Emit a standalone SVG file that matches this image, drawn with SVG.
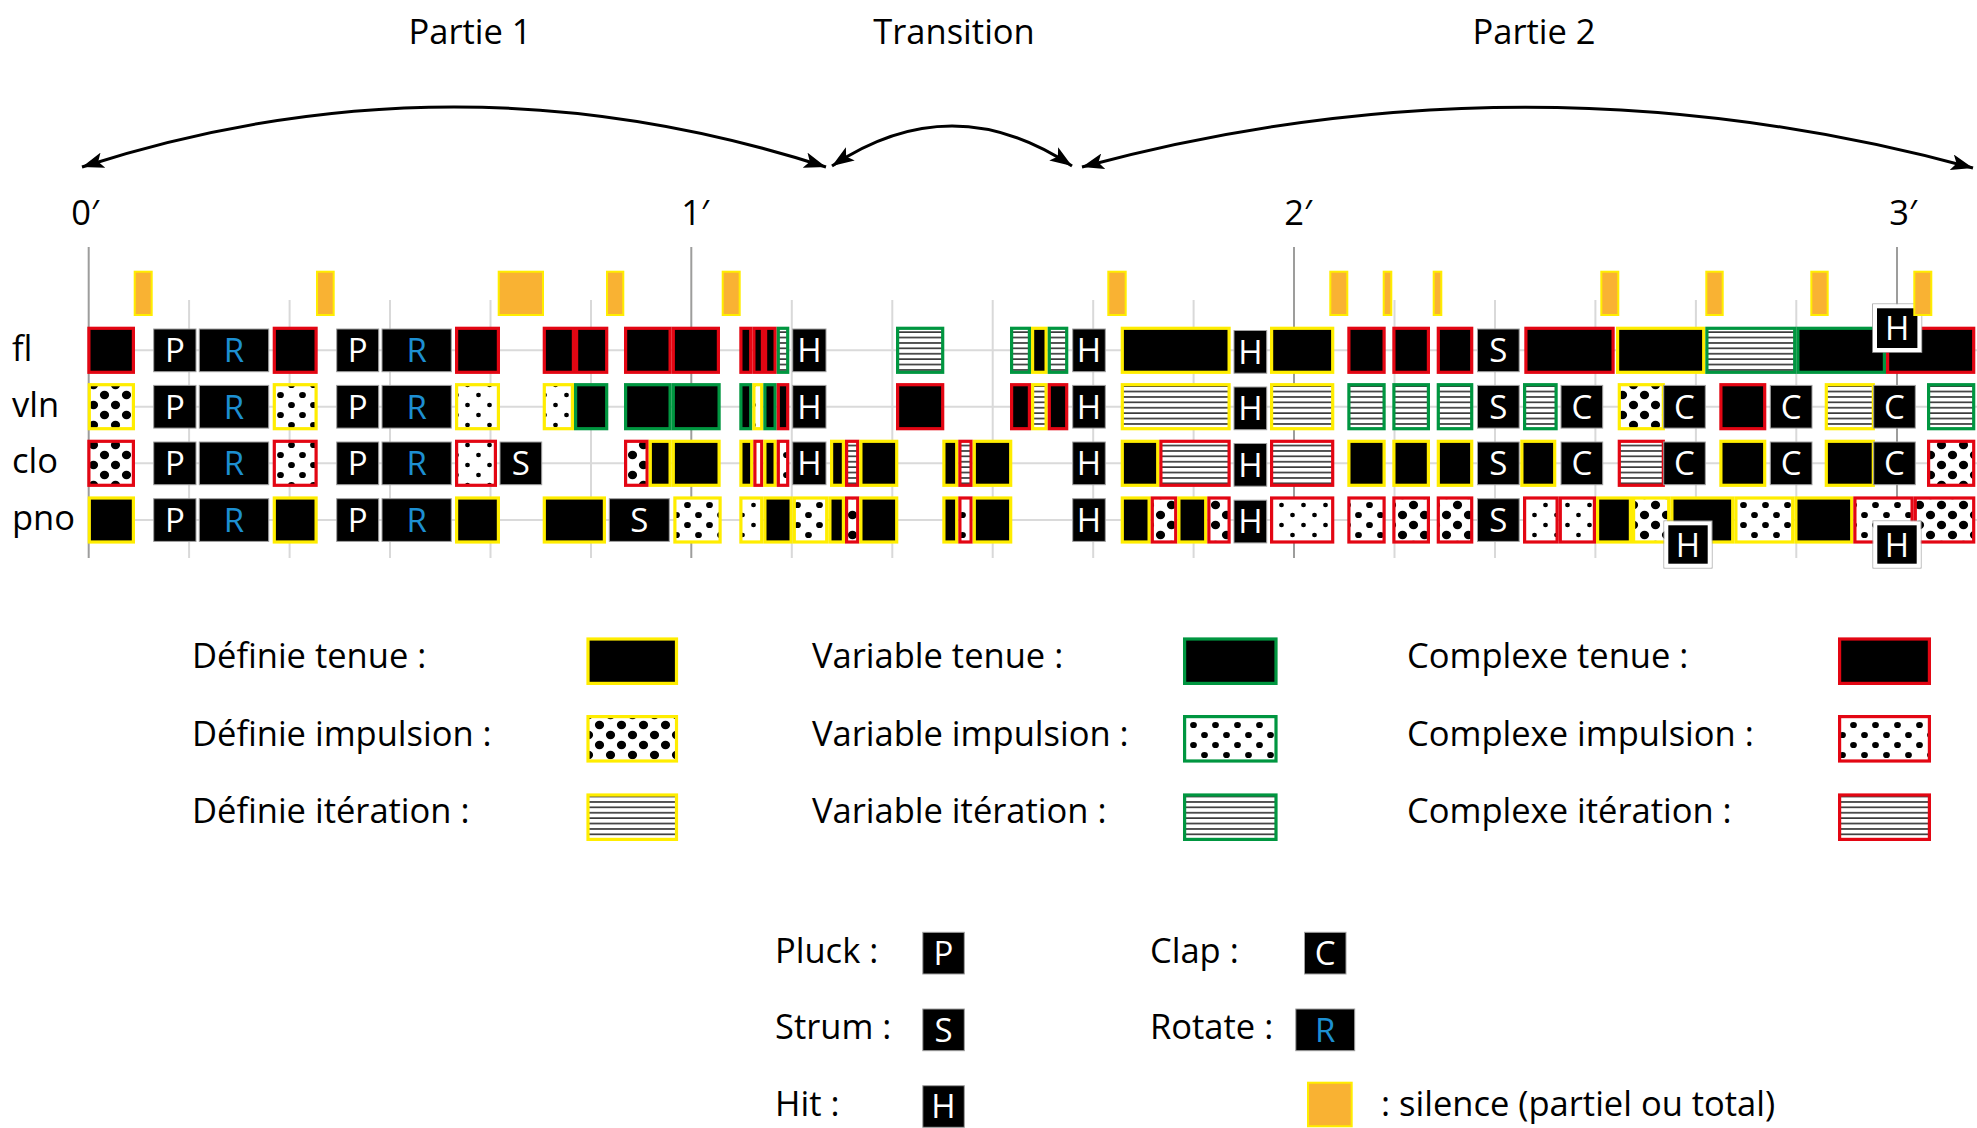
<svg xmlns="http://www.w3.org/2000/svg" width="1977" height="1128" viewBox="0 0 1977 1128">
<defs>
<style>
.c{stroke-width:3.2}
.y{stroke:#ffed00}.g{stroke:#009640}.r{stroke:#e30613}
.B{fill:#000}.L{fill:url(#dL)}.M{fill:url(#dM)}.S{fill:url(#dS)}.I{fill:url(#it)}
.k{fill:#000;stroke:#a0a0a0;stroke-width:1}
.t{font-family:"Open Sans","Liberation Sans",sans-serif;font-size:33px;fill:#fff;text-anchor:middle}
.bl{fill:#1d8fd1}
.lab{font-family:"Open Sans","Liberation Sans",sans-serif;font-size:34.5px;fill:#000}
.mid{text-anchor:middle}
.ax{font-family:"Open Sans","DejaVu Sans",sans-serif;font-size:34.5px;fill:#000;text-anchor:middle}
.sil{fill:#f9b233;stroke:#ffed00;stroke-width:2}
.mn{stroke:#d9d9d9;stroke-width:2}
.mj{stroke:#9d9d9c;stroke-width:2}
.hl{stroke:#dadada;stroke-width:2}
.arc{fill:none;stroke:#000;stroke-width:3;marker-start:url(#ah);marker-end:url(#ah)}
.ov{fill:#000;stroke:#fff;stroke-width:4}
.ovo{fill:none;stroke:#a0a0a0;stroke-width:1}
</style>
<pattern id="dL" width="22" height="20" patternUnits="userSpaceOnUse"><rect width="22" height="20" fill="#fff"/><ellipse cx="5.5" cy="5" rx="4.6" ry="4.2"/><ellipse cx="16.5" cy="15" rx="4.6" ry="4.2"/></pattern>
<pattern id="dM" width="22" height="20" patternUnits="userSpaceOnUse"><rect width="22" height="20" fill="#fff"/><ellipse cx="5.5" cy="5" rx="3.4" ry="3.1"/><ellipse cx="16.5" cy="15" rx="3.4" ry="3.1"/></pattern>
<pattern id="dS" width="22" height="20" patternUnits="userSpaceOnUse"><rect width="22" height="20" fill="#fff"/><ellipse cx="5.5" cy="5" rx="2.4" ry="2.2"/><ellipse cx="16.5" cy="15" rx="2.4" ry="2.2"/></pattern>
<pattern id="it" width="10" height="5.4" patternUnits="userSpaceOnUse"><rect width="10" height="5.4" fill="#fff"/><rect y="2" width="10" height="1.5" fill="#222"/></pattern>
<marker id="ah" markerUnits="userSpaceOnUse" markerWidth="24" markerHeight="16" viewBox="0 0 24 16" refX="22" refY="8" orient="auto-start-reverse"><path d="M0,0 L22,8 L0,16 L5,8 z" fill="#000"/></marker>
</defs>
<rect width="1977" height="1128" fill="#fff"/>

<g id="titles">
<text class="lab mid" x="470" y="44">Partie 1</text>
<text class="lab mid" x="954" y="44">Transition</text>
<text class="lab mid" x="1534" y="44">Partie 2</text>
</g>

<g id="connectors">
<path class="arc" d="M82,167 Q454,47 826,167"/>
<path class="arc" d="M832,166 Q952,86 1072,166"/>
<path class="arc" d="M1082,167 Q1527,47 1973,168"/>
</g>

<g id="axis">
<text class="ax" x="85" y="225">0′</text>
<text class="ax" x="695" y="225">1′</text>
<text class="ax" x="1298" y="225">2′</text>
<text class="ax" x="1903" y="225">3′</text>
</g>

<g id="grid">
<line class="hl" x1="88.7" y1="350.3" x2="1977" y2="350.3"/>
<line class="hl" x1="88.7" y1="406.7" x2="1977" y2="406.7"/>
<line class="hl" x1="88.7" y1="463.3" x2="1977" y2="463.3"/>
<line class="hl" x1="88.7" y1="520" x2="1977" y2="520"/>
<line class="mn" x1="189.1" y1="300" x2="189.1" y2="558"/>
<line class="mn" x1="289.6" y1="300" x2="289.6" y2="558"/>
<line class="mn" x1="390" y1="300" x2="390" y2="558"/>
<line class="mn" x1="490.5" y1="300" x2="490.5" y2="558"/>
<line class="mn" x1="591" y1="300" x2="591" y2="558"/>
<line class="mn" x1="791.8" y1="300" x2="791.8" y2="558"/>
<line class="mn" x1="892.3" y1="300" x2="892.3" y2="558"/>
<line class="mn" x1="992.7" y1="300" x2="992.7" y2="558"/>
<line class="mn" x1="1093.2" y1="300" x2="1093.2" y2="558"/>
<line class="mn" x1="1193.6" y1="300" x2="1193.6" y2="558"/>
<line class="mn" x1="1394.5" y1="300" x2="1394.5" y2="558"/>
<line class="mn" x1="1495" y1="300" x2="1495" y2="558"/>
<line class="mn" x1="1595.4" y1="300" x2="1595.4" y2="558"/>
<line class="mn" x1="1695.9" y1="300" x2="1695.9" y2="558"/>
<line class="mn" x1="1796.3" y1="300" x2="1796.3" y2="558"/>
<line class="mj" x1="88.7" y1="247" x2="88.7" y2="558"/>
<line class="mj" x1="691.3" y1="247" x2="691.3" y2="558"/>
<line class="mj" x1="1294" y1="247" x2="1294" y2="558"/>
<line class="mj" x1="1897" y1="247" x2="1897" y2="558"/>
</g>

<g id="row-labels">
<text class="lab" x="12" y="361">fl</text>
<text class="lab" x="12" y="417">vln</text>
<text class="lab" x="12" y="473">clo</text>
<text class="lab" x="12" y="530">pno</text>
</g>

<g id="row-fl">
<rect class="c r B" x="88.9" y="328.3" width="44.5" height="44"/>
<rect class="c r B" x="274.3" y="328.3" width="41.8" height="44"/>
<rect class="c r B" x="456.6" y="328.3" width="41.8" height="44"/>
<rect class="c r B" x="544.3" y="328.3" width="29.1" height="44"/>
<rect class="c r B" x="576.6" y="328.3" width="30.1" height="44"/>
<rect class="c r B" x="625.6" y="328.3" width="44.5" height="44"/>
<rect class="c r B" x="673.3" y="328.3" width="45.1" height="44"/>
<rect class="c r B" x="740.9" y="328.3" width="9.8" height="44"/>
<rect class="c r B" x="753.9" y="328.3" width="8.5" height="44"/>
<rect class="c r B" x="765.6" y="328.3" width="9.5" height="44"/>
<rect class="c g I" x="778.3" y="328.3" width="9.4" height="44"/>
<rect class="c g I" x="897.6" y="328.3" width="45.1" height="44"/>
<rect class="c g I" x="1011.6" y="328.3" width="17.8" height="44"/>
<rect class="c y B" x="1032.6" y="328.3" width="13.5" height="44"/>
<rect class="c g I" x="1049.3" y="328.3" width="17.4" height="44"/>
<rect class="c y B" x="1122.3" y="328.3" width="106.8" height="44"/>
<rect class="c y B" x="1271.6" y="328.3" width="61.1" height="44"/>
<rect class="c r B" x="1348.9" y="328.3" width="35.2" height="44"/>
<rect class="c r B" x="1393.9" y="328.3" width="34.5" height="44"/>
<rect class="c r B" x="1438.3" y="328.3" width="33.4" height="44"/>
<rect class="c r B" x="1525.9" y="328.3" width="87.2" height="44"/>
<rect class="c y B" x="1617.6" y="328.3" width="86.1" height="44"/>
<rect class="c g I" x="1706.9" y="328.3" width="87.8" height="44"/>
<rect class="c g B" x="1797.9" y="328.3" width="86.5" height="44"/>
<rect class="c r B" x="1887.6" y="328.3" width="86.1" height="44"/>
<rect class="k" x="153.7" y="329" width="42.3" height="42.7"/><text class="t" x="174.9" y="362">P</text>
<rect class="k" x="199.3" y="329" width="69.4" height="42.7"/><text class="t bl" x="234" y="362">R</text>
<rect class="k" x="336.7" y="329" width="42" height="42.7"/><text class="t" x="357.7" y="362">P</text>
<rect class="k" x="382" y="329" width="69.3" height="42.7"/><text class="t bl" x="416.7" y="362">R</text>
<rect class="k" x="792.7" y="329" width="33.3" height="42.7"/><text class="t" x="809.4" y="362">H</text>
<rect class="k" x="1072.7" y="329" width="32.6" height="42.7"/><text class="t" x="1089" y="362">H</text>
<rect class="k" x="1234" y="330.5" width="32.7" height="42.7"/><text class="t" x="1250.4" y="363.5">H</text>
<rect class="k" x="1477.5" y="329" width="41.7" height="42.7"/><text class="t" x="1498.4" y="362">S</text>
<rect class="ovo" x="1872.7" y="304" width="49" height="48.3"/>
<rect class="ov" x="1875" y="306.3" width="44.4" height="43.7"/><text class="t" x="1897.2" y="340">H</text>
</g>

<g id="row-vln">
<rect class="c y L" x="89.3" y="384.7" width="44.1" height="44"/>
<rect class="c y M" x="274.3" y="384.7" width="41.8" height="44"/>
<rect class="c y S" x="456.6" y="384.7" width="41.8" height="44"/>
<rect class="c y S" x="544.3" y="384.7" width="28.1" height="44"/>
<rect class="c g B" x="575.6" y="384.7" width="31.1" height="44"/>
<rect class="c g B" x="625.6" y="384.7" width="44.5" height="44"/>
<rect class="c g B" x="673.3" y="384.7" width="45.8" height="44"/>
<rect class="c g B" x="740.9" y="384.7" width="9.8" height="44"/>
<rect class="c y S" x="753.9" y="384.7" width="7.8" height="44"/>
<rect class="c g B" x="764.9" y="384.7" width="10.2" height="44"/>
<rect class="c r B" x="778.3" y="384.7" width="9.4" height="44"/>
<rect class="c r B" x="897.6" y="384.7" width="45.1" height="44"/>
<rect class="c r B" x="1011.6" y="384.7" width="17.8" height="44"/>
<rect class="c y I" x="1032.6" y="384.7" width="13.5" height="44"/>
<rect class="c r B" x="1049.3" y="384.7" width="17.4" height="44"/>
<rect class="c y I" x="1122.3" y="384.7" width="106.8" height="44"/>
<rect class="c y I" x="1271.6" y="384.7" width="61.1" height="44"/>
<rect class="c g I" x="1348.9" y="384.7" width="35.2" height="44"/>
<rect class="c g I" x="1393.9" y="384.7" width="34.5" height="44"/>
<rect class="c g I" x="1438.3" y="384.7" width="33.4" height="44"/>
<rect class="c g I" x="1524.6" y="384.7" width="31.5" height="44"/>
<rect class="c y L" x="1619.3" y="384.7" width="44" height="44"/>
<rect class="c r B" x="1720.9" y="384.7" width="43.8" height="44"/>
<rect class="c y I" x="1826.3" y="384.7" width="47" height="44"/>
<rect class="c g I" x="1928.6" y="384.7" width="45.1" height="44"/>
<rect class="k" x="153.7" y="385.4" width="42.3" height="42.7"/><text class="t" x="174.9" y="418.5">P</text>
<rect class="k" x="199.3" y="385.4" width="69.4" height="42.7"/><text class="t bl" x="234" y="418.5">R</text>
<rect class="k" x="336.7" y="385.4" width="42" height="42.7"/><text class="t" x="357.7" y="418.5">P</text>
<rect class="k" x="382" y="385.4" width="69.3" height="42.7"/><text class="t bl" x="416.7" y="418.5">R</text>
<rect class="k" x="792.7" y="385.4" width="33.3" height="42.7"/><text class="t" x="809.4" y="418.5">H</text>
<rect class="k" x="1072.7" y="385.4" width="32.6" height="42.7"/><text class="t" x="1089" y="418.5">H</text>
<rect class="k" x="1234" y="387" width="32.7" height="42.7"/><text class="t" x="1250.4" y="420">H</text>
<rect class="k" x="1477.5" y="385.4" width="41.7" height="42.7"/><text class="t" x="1498.4" y="418.5">S</text>
<rect class="k" x="1561" y="385.4" width="41.7" height="42.7"/><text class="t" x="1581.9" y="418.5">C</text>
<rect class="k" x="1663.7" y="385.4" width="41.6" height="42.7"/><text class="t" x="1684.5" y="418.5">C</text>
<rect class="k" x="1770.3" y="385.4" width="41.7" height="42.7"/><text class="t" x="1791.2" y="418.5">C</text>
<rect class="k" x="1873.7" y="385.4" width="41.6" height="42.7"/><text class="t" x="1894.5" y="418.5">C</text>
</g>

<g id="row-clo">
<rect class="c r L" x="88.9" y="441.3" width="44.5" height="44"/>
<rect class="c r M" x="274.3" y="441.3" width="41.8" height="44"/>
<rect class="c r S" x="456.6" y="441.3" width="38.8" height="44"/>
<rect class="c r L" x="625.6" y="441.3" width="21.5" height="44"/>
<rect class="c y B" x="650.3" y="441.3" width="19.8" height="44"/>
<rect class="c y B" x="673.3" y="441.3" width="45.8" height="44"/>
<rect class="c y B" x="740.9" y="441.3" width="10.8" height="44"/>
<rect class="c r S" x="754.9" y="441.3" width="6.8" height="44"/>
<rect class="c y B" x="764.9" y="441.3" width="10.2" height="44"/>
<rect class="c r M" x="778.3" y="441.3" width="9.4" height="44"/>
<rect class="c y B" x="831.6" y="441.3" width="11.8" height="44"/>
<rect class="c r I" x="846.6" y="441.3" width="11.1" height="44"/>
<rect class="c y B" x="860.9" y="441.3" width="35.8" height="44"/>
<rect class="c y B" x="943.9" y="441.3" width="12.8" height="44"/>
<rect class="c r I" x="959.9" y="441.3" width="11.2" height="44"/>
<rect class="c y B" x="974.3" y="441.3" width="36.4" height="44"/>
<rect class="c y B" x="1122.3" y="441.3" width="35.4" height="44"/>
<rect class="c r I" x="1160.9" y="441.3" width="68.2" height="44"/>
<rect class="c r I" x="1271.6" y="441.3" width="61.1" height="44"/>
<rect class="c y B" x="1348.9" y="441.3" width="35.2" height="44"/>
<rect class="c y B" x="1393.9" y="441.3" width="34.5" height="44"/>
<rect class="c y B" x="1438.3" y="441.3" width="33.4" height="44"/>
<rect class="c y B" x="1521.9" y="441.3" width="32.8" height="44"/>
<rect class="c r I" x="1619.3" y="441.3" width="44" height="44"/>
<rect class="c y B" x="1720.9" y="441.3" width="43.8" height="44"/>
<rect class="c y B" x="1826.3" y="441.3" width="47" height="44"/>
<rect class="c r L" x="1928.6" y="441.3" width="45.1" height="44"/>
<rect class="k" x="153.7" y="442" width="42.3" height="42.7"/><text class="t" x="174.9" y="475">P</text>
<rect class="k" x="199.3" y="442" width="69.4" height="42.7"/><text class="t bl" x="234" y="475">R</text>
<rect class="k" x="336.7" y="442" width="42" height="42.7"/><text class="t" x="357.7" y="475">P</text>
<rect class="k" x="382" y="442" width="69.3" height="42.7"/><text class="t bl" x="416.7" y="475">R</text>
<rect class="k" x="500" y="442" width="41.7" height="42.7"/><text class="t" x="520.9" y="475">S</text>
<rect class="k" x="792.7" y="442" width="33.3" height="42.7"/><text class="t" x="809.4" y="475">H</text>
<rect class="k" x="1072.7" y="442" width="32.6" height="42.7"/><text class="t" x="1089" y="475">H</text>
<rect class="k" x="1234" y="443.5" width="32.7" height="42.7"/><text class="t" x="1250.4" y="476.5">H</text>
<rect class="k" x="1477.5" y="442" width="41.7" height="42.7"/><text class="t" x="1498.4" y="475">S</text>
<rect class="k" x="1561" y="442" width="41.7" height="42.7"/><text class="t" x="1581.9" y="475">C</text>
<rect class="k" x="1663.7" y="442" width="41.6" height="42.7"/><text class="t" x="1684.5" y="475">C</text>
<rect class="k" x="1770.3" y="442" width="41.7" height="42.7"/><text class="t" x="1791.2" y="475">C</text>
<rect class="k" x="1873.7" y="442" width="41.6" height="42.7"/><text class="t" x="1894.5" y="475">C</text>
</g>

<g id="row-pno">
<rect class="c y B" x="89.3" y="498" width="44.1" height="44"/>
<rect class="c y B" x="274.3" y="498" width="41.8" height="44"/>
<rect class="c y B" x="456.6" y="498" width="41.8" height="44"/>
<rect class="c y B" x="544.3" y="498" width="60.1" height="44"/>
<rect class="c y M" x="674.9" y="498" width="45.2" height="44"/>
<rect class="c y S" x="740.9" y="498" width="20.8" height="44"/>
<rect class="c y B" x="764.9" y="498" width="26.2" height="44"/>
<rect class="c y M" x="794.3" y="498" width="32.4" height="44"/>
<rect class="c y B" x="829.9" y="498" width="13.5" height="44"/>
<rect class="c r L" x="846.6" y="498" width="11.1" height="44"/>
<rect class="c y B" x="860.9" y="498" width="35.8" height="44"/>
<rect class="c y B" x="943.9" y="498" width="12.8" height="44"/>
<rect class="c r M" x="959.9" y="498" width="11.2" height="44"/>
<rect class="c y B" x="974.3" y="498" width="36.4" height="44"/>
<rect class="c y B" x="1122.3" y="498" width="26.8" height="44"/>
<rect class="c r L" x="1152.3" y="498" width="23.4" height="44"/>
<rect class="c y B" x="1178.9" y="498" width="26.8" height="44"/>
<rect class="c r L" x="1208.9" y="498" width="20.2" height="44"/>
<rect class="c r S" x="1271.6" y="498" width="61.1" height="44"/>
<rect class="c r M" x="1348.9" y="498" width="35.2" height="44"/>
<rect class="c r L" x="1393.9" y="498" width="34.5" height="44"/>
<rect class="c r L" x="1438.3" y="498" width="33.4" height="44"/>
<rect class="c r S" x="1524.6" y="498" width="32.5" height="44"/>
<rect class="c r S" x="1560.3" y="498" width="34.1" height="44"/>
<rect class="c y B" x="1597.6" y="498" width="32.8" height="44"/>
<rect class="c y L" x="1633.6" y="498" width="35.1" height="44"/>
<rect class="c y B" x="1671.9" y="498" width="60.8" height="44"/>
<rect class="c y M" x="1735.9" y="498" width="56.8" height="44"/>
<rect class="c y B" x="1795.9" y="498" width="55.8" height="44"/>
<rect class="c r M" x="1854.9" y="498" width="57.2" height="44"/>
<rect class="c r L" x="1915.3" y="498" width="58.4" height="44"/>
<rect class="k" x="153.7" y="498.7" width="42.3" height="42.7"/><text class="t" x="174.9" y="531.8">P</text>
<rect class="k" x="199.3" y="498.7" width="69.4" height="42.7"/><text class="t bl" x="234" y="531.8">R</text>
<rect class="k" x="336.7" y="498.7" width="42" height="42.7"/><text class="t" x="357.7" y="531.8">P</text>
<rect class="k" x="382" y="498.7" width="69.3" height="42.7"/><text class="t bl" x="416.7" y="531.8">R</text>
<rect class="k" x="609.3" y="498.7" width="60" height="42.7"/><text class="t" x="639.3" y="531.8">S</text>
<rect class="k" x="1072.7" y="498.7" width="32.6" height="42.7"/><text class="t" x="1089" y="531.8">H</text>
<rect class="k" x="1234" y="500.2" width="32.7" height="42.7"/><text class="t" x="1250.4" y="533.3">H</text>
<rect class="k" x="1477.5" y="498.7" width="41.7" height="42.7"/><text class="t" x="1498.4" y="531.8">S</text>
<rect class="ovo" x="1664" y="521" width="48" height="47"/>
<rect class="ov" x="1666.3" y="523.3" width="43.4" height="42.4"/><text class="t" x="1688" y="556.5">H</text>
<rect class="ovo" x="1873" y="521" width="48" height="47"/>
<rect class="ov" x="1875.3" y="523.3" width="43.4" height="42.4"/><text class="t" x="1897" y="556.5">H</text>
</g>

<g id="silences">
<rect class="sil" x="134.7" y="271.7" width="17" height="43.3"/>
<rect class="sil" x="317" y="271.7" width="16.7" height="43.3"/>
<rect class="sil" x="498.7" y="271.7" width="44.3" height="43.3"/>
<rect class="sil" x="607" y="271.7" width="16.3" height="43.3"/>
<rect class="sil" x="722.7" y="271.7" width="17" height="43.3"/>
<rect class="sil" x="1108.3" y="271.7" width="17.4" height="43.3"/>
<rect class="sil" x="1330.3" y="271.7" width="17" height="43.3"/>
<rect class="sil" x="1383.7" y="271.7" width="7.6" height="43.3"/>
<rect class="sil" x="1433.7" y="271.7" width="7.6" height="43.3"/>
<rect class="sil" x="1601.3" y="271.7" width="17" height="43.3"/>
<rect class="sil" x="1706.3" y="271.7" width="16.4" height="43.3"/>
<rect class="sil" x="1811.3" y="271.7" width="16.4" height="43.3"/>
<rect class="sil" x="1914.3" y="271.7" width="17" height="43.3"/>
</g>

<g id="legend-types">
<g id="leg-def-tenue"><text class="lab" x="192" y="668">Définie tenue :</text><rect class="c y B" x="588" y="639" width="88.5" height="44.4"/></g>
<g id="leg-def-imp"><text class="lab" x="192" y="745.5">Définie impulsion :</text><rect class="c y L" x="588" y="716.6" width="88.5" height="44.4"/></g>
<g id="leg-def-it"><text class="lab" x="192" y="823">Définie itération :</text><rect class="c y I" x="588" y="795" width="88.5" height="44.4"/></g>
<g id="leg-var-tenue"><text class="lab" x="812" y="668">Variable tenue :</text><rect class="c g B" x="1184.6" y="639" width="91.4" height="44.4"/></g>
<g id="leg-var-imp"><text class="lab" x="812" y="745.5">Variable impulsion :</text><rect class="c g M" x="1184.6" y="716.6" width="91.4" height="44.4"/></g>
<g id="leg-var-it"><text class="lab" x="812" y="823">Variable itération :</text><rect class="c g I" x="1184.6" y="795" width="91.4" height="44.4"/></g>
<g id="leg-cpx-tenue"><text class="lab" x="1407" y="668">Complexe tenue :</text><rect class="c r B" x="1839.6" y="639" width="89.8" height="44.4"/></g>
<g id="leg-cpx-imp"><text class="lab" x="1407" y="745.5">Complexe impulsion :</text><rect class="c r M" x="1839.6" y="716.6" width="89.8" height="44.4"/></g>
<g id="leg-cpx-it"><text class="lab" x="1407" y="823">Complexe itération :</text><rect class="c r I" x="1839.6" y="795" width="89.8" height="44.4"/></g>
</g>

<g id="legend-actions">
<g id="leg-pluck"><text class="lab" x="775" y="962.7">Pluck :</text><rect class="k" x="922.8" y="932.3" width="41.5" height="41.7"/><text class="t" x="943.5" y="965">P</text></g>
<g id="leg-strum"><text class="lab" x="775" y="1039.3">Strum :</text><rect class="k" x="922.8" y="1009" width="41.5" height="41.7"/><text class="t" x="943.5" y="1041.6">S</text></g>
<g id="leg-hit"><text class="lab" x="775" y="1116">Hit :</text><rect class="k" x="922.8" y="1085.7" width="41.5" height="41.6"/><text class="t" x="943.5" y="1118.3">H</text></g>
<g id="leg-clap"><text class="lab" x="1150" y="962.7">Clap :</text><rect class="k" x="1304.5" y="932.3" width="41.5" height="41.7"/><text class="t" x="1325.2" y="965">C</text></g>
<g id="leg-rotate"><text class="lab" x="1150" y="1039.3">Rotate :</text><rect class="k" x="1295.8" y="1009" width="58.9" height="41.7"/><text class="t bl" x="1325.2" y="1041.6">R</text></g>
<g id="leg-silence"><rect class="sil" x="1308" y="1082.7" width="43.7" height="43.6"/><text class="lab" x="1381" y="1116">: silence (partiel ou total)</text></g>
</g>
</svg>
